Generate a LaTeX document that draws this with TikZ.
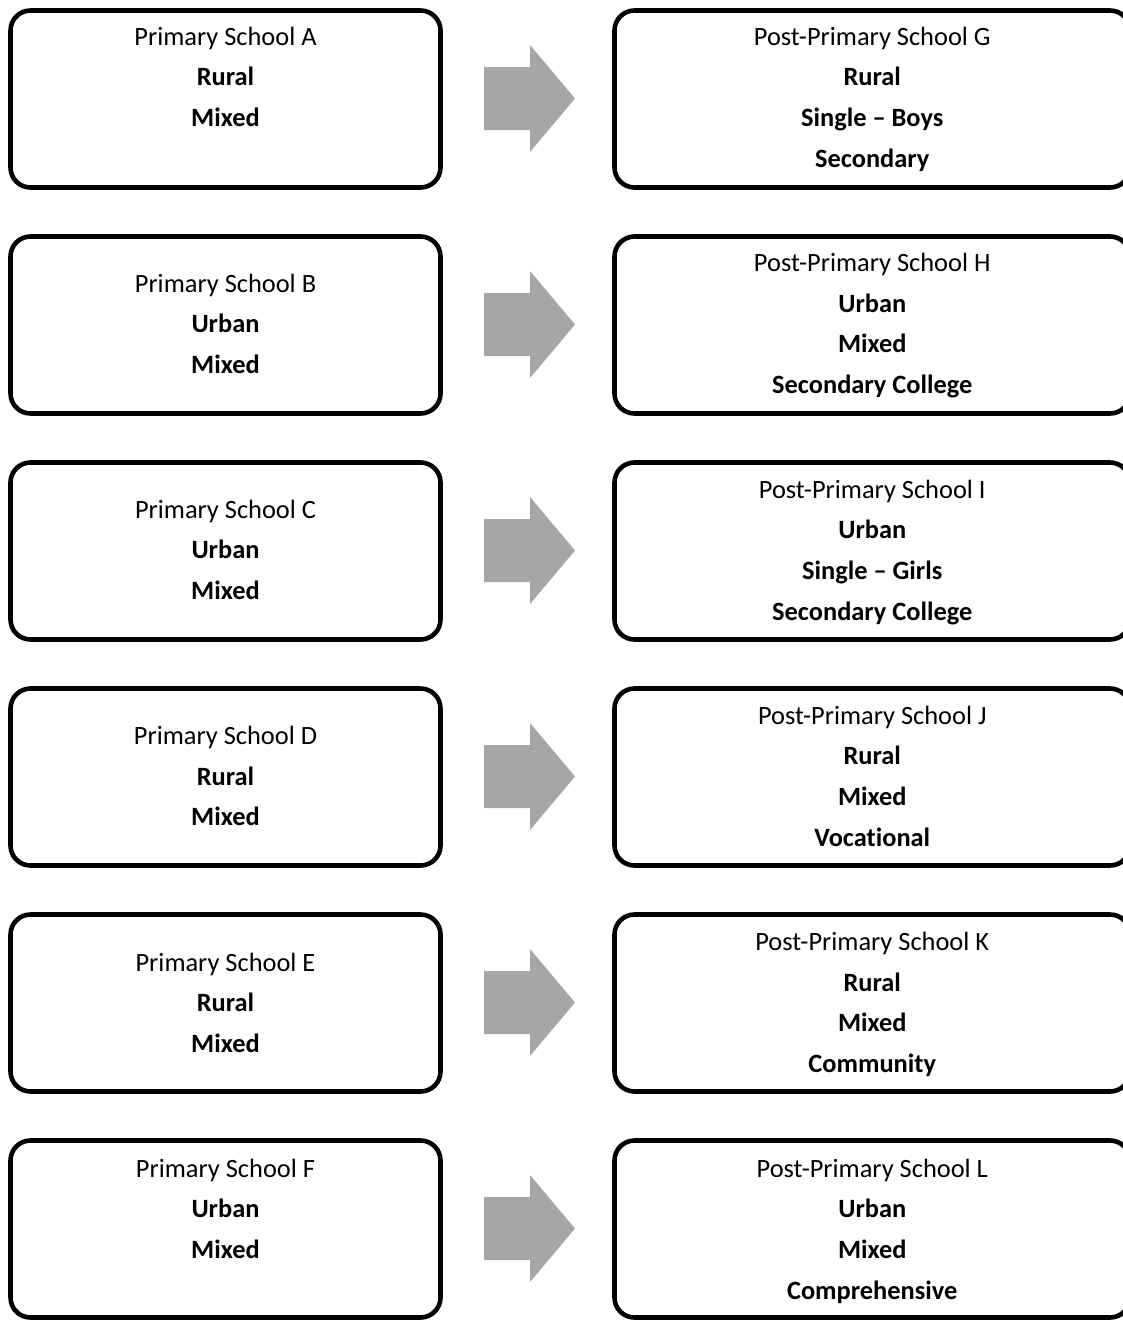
\documentclass[tikz,border=0pt]{standalone}
\usepackage{fontspec}
\setmainfont[Ligatures=NoCommon]{Carlito}
\definecolor{arrowgray}{HTML}{A6A6A6}
\begin{document}
\begin{tikzpicture}[x=1pt,y=-1pt,
  schoolbox/.style={draw=black, line width=4.6pt, rounded corners=20pt, fill=white, inner sep=0pt, outer sep=0pt, anchor=north west},
  leftbox/.style={schoolbox, minimum width=430pt, minimum height=177pt},
  rightbox/.style={schoolbox, minimum width=515.5pt, minimum height=177pt},
  txt/.style={anchor=base, inner sep=0pt, font=\fontsize{26.4}{30}\selectfont},
  btxt/.style={anchor=base, inner sep=0pt, font=\fontsize{26.4}{30}\selectfont\bfseries},
  blockarrow/.style={fill=arrowgray}]
\useasboundingbox (0,0) rectangle (1123,1320);
\clip (0,0) rectangle (1123,1320);

% boxes and arrows
\foreach \i/\l/\r in {0/a/g,1/b/h,2/c/i,3/d/j,4/e/k,5/f/l}{
  \node[leftbox] (box\l) at (10.5,{10.5+226*\i}) {};
  \node[rightbox] (box\r) at (614.5,{10.5+226*\i}) {};
  \fill[blockarrow] (484,{98.5+226*\i-31.5}) -- (530,{98.5+226*\i-31.5}) -- (530,{98.5+226*\i-53.5})
     -- (575,{98.5+226*\i}) -- (530,{98.5+226*\i+53.5}) -- (530,{98.5+226*\i+31.5})
     -- (484,{98.5+226*\i+31.5}) -- cycle;
}

% left texts
\node[txt]  (ta1) at (225.5,45) {Primary School A};
\node[btxt] (ta2) at (225.5,85.7) {Rural};
\node[btxt] (ta3) at (225.5,126.4) {Mixed};

\node[txt]  (tb1) at (225.5,292) {Primary School B};
\node[btxt] (tb2) at (225.5,332.7) {Urban};
\node[btxt] (tb3) at (225.5,373.4) {Mixed};

\node[txt]  (tc1) at (225.5,518) {Primary School C};
\node[btxt] (tc2) at (225.5,558.7) {Urban};
\node[btxt] (tc3) at (225.5,599.4) {Mixed};

\node[txt]  (td1) at (225.5,744.5) {Primary School D};
\node[btxt] (td2) at (225.5,785.2) {Rural};
\node[btxt] (td3) at (225.5,825.9) {Mixed};

\node[txt]  (te1) at (225.5,971) {Primary School E};
\node[btxt] (te2) at (225.5,1011.7) {Rural};
\node[btxt] (te3) at (225.5,1052.4) {Mixed};

\node[txt]  (tf1) at (225.5,1177) {Primary School F};
\node[btxt] (tf2) at (225.5,1217.7) {Urban};
\node[btxt] (tf3) at (225.5,1258.4) {Mixed};

% right texts
\node[txt]  (tg1) at (872.25,45) {Post-Primary School G};
\node[btxt] (tg2) at (872.25,85.7) {Rural};
\node[btxt] (tg3) at (872.25,126.4) {Single – Boys};
\node[btxt] (tg4) at (872.25,167.1) {Secondary};

\node[txt]  (th1) at (872.25,271.5) {Post-Primary School H};
\node[btxt] (th2) at (872.25,312.2) {Urban};
\node[btxt] (th3) at (872.25,352.9) {Mixed};
\node[btxt] (th4) at (872.25,393.6) {Secondary College};

\node[txt]  (ti1) at (872.25,498) {Post-Primary School I};
\node[btxt] (ti2) at (872.25,538.7) {Urban};
\node[btxt] (ti3) at (872.25,579.4) {Single – Girls};
\node[btxt] (ti4) at (872.25,620.1) {Secondary College};

\node[txt]  (tj1) at (872.25,724) {Post-Primary School J};
\node[btxt] (tj2) at (872.25,764.7) {Rural};
\node[btxt] (tj3) at (872.25,805.4) {Mixed};
\node[btxt] (tj4) at (872.25,846.1) {Vocational};

\node[txt]  (tk1) at (872.25,950.5) {Post-Primary School K};
\node[btxt] (tk2) at (872.25,991.2) {Rural};
\node[btxt] (tk3) at (872.25,1031.9) {Mixed};
\node[btxt] (tk4) at (872.25,1072.6) {Community};

\node[txt]  (tl1) at (872.25,1177) {Post-Primary School L};
\node[btxt] (tl2) at (872.25,1217.7) {Urban};
\node[btxt] (tl3) at (872.25,1258.4) {Mixed};
\node[btxt] (tl4) at (872.25,1299.1) {Comprehensive};
\end{tikzpicture}
\end{document}
